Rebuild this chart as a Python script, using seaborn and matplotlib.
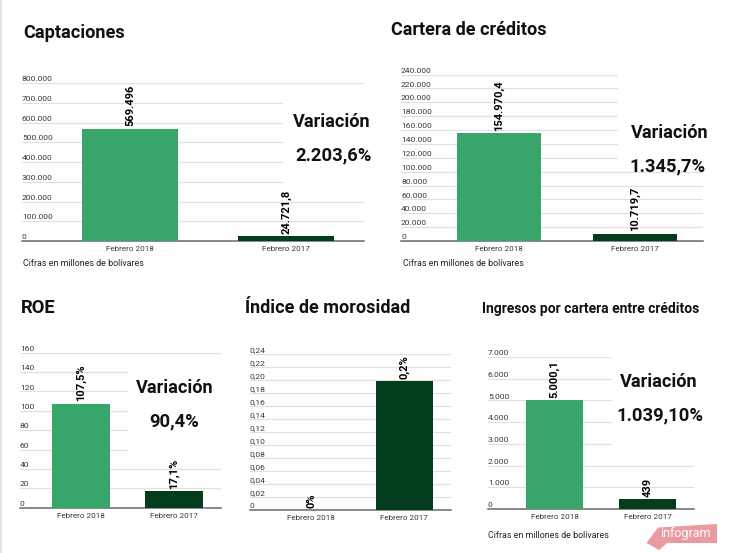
import matplotlib
matplotlib.use("Agg")
import matplotlib.pyplot as plt
from matplotlib.patches import Polygon, Rectangle
from matplotlib.transforms import ScaledTranslation
import pandas as pd
import seaborn as sns

sns.set_theme(style="white")
plt.rcParams['font.family'] = ['Roboto', 'DejaVu Sans']

W, H = 737, 553
periods = ["Febrero 2018", "Febrero 2017"]
palette = {"Febrero 2018": "#38a66b", "Febrero 2017": "#033d1e"}

capt_values = [569496, 24721.8]
capt_labels = ["569.496", "24.721,8"]
capt_ticks = [0, 100000, 200000, 300000, 400000, 500000, 600000, 700000, 800000]
capt_ticklabels = ["0", "100.000", "200.000", "300.000", "400.000", "500.000", "600.000", "700.000", "800.000"]

cart_values = [154970.4, 10719.7]
cart_labels = ["154.970,4", "10.719,7"]
cart_ticks = list(range(0, 240001, 20000))
cart_ticklabels = ["0", "20.000", "40.000", "60.000", "80.000", "100.000", "120.000", "140.000",
                   "160.000", "180.000", "200.000", "220.000", "240.000"]

roe_values = [107.5, 17.1]
roe_labels = ["107,5%", "17,1%"]
roe_ticks = [0, 20, 40, 60, 80, 100, 120, 140, 160]
roe_ticklabels = ["0", "20", "40", "60", "80", "100", "120", "140", "160"]

mor_values = [0, 0.199]
mor_labels = ["0%", "0,2%"]
mor_ticks = [0, 0.02, 0.04, 0.06, 0.08, 0.10, 0.12, 0.14, 0.16, 0.18, 0.20, 0.22, 0.24]
mor_ticklabels = ["0", "0,02", "0,04", "0,06", "0,08", "0,10", "0,12", "0,14", "0,16", "0,18", "0,20", "0,22", "0,24"]

ing_values = [5000.1, 439]
ing_labels = ["5.000,1", "439"]
ing_ticks = [0, 1000, 2000, 3000, 4000, 5000, 6000, 7000]
ing_ticklabels = ["0", "1.000", "2.000", "3.000", "4.000", "5.000", "6.000", "7.000"]

fig = plt.figure(figsize=(W / 100, H / 100), dpi=100, facecolor="white")


def fx(x):
    return x / W


def fy(y):
    return 1 - y / H


def panel(left, right, plot_left, top, base, values, labels, ticks, ticklabels):
    ax = fig.add_axes([fx(left), fy(base), (right - left) / W, (base - top) / H])
    df = pd.DataFrame({"periodo": periods, "valor": values})
    sns.barplot(data=df, x="periodo", y="valor", hue="periodo", palette=palette, dodge=False,
                legend=False, width=0.617, saturation=1, linewidth=0, ax=ax, zorder=3)
    step = (right - plot_left) / 2
    ax.set_xlim(-0.5 - (plot_left - left) / step, 1.5)
    ax.set_ylim(ticks[0], ticks[-1])
    ax.set_yticks(ticks, ticklabels)
    ax.set_xlabel("")
    ax.set_ylabel("")
    ax.grid(axis="y", color="#e0e0e0", lw=0.9, zorder=0)
    ax.set_axisbelow(True)
    ax.patch.set_alpha(0)
    for s in ("top", "left", "right"):
        ax.spines[s].set_visible(False)
    ax.spines["bottom"].set_color("#6a6a6a")
    ax.spines["bottom"].set_linewidth(1.1)
    ax.tick_params(axis="y", length=0, pad=0, labelsize=6.1, labelcolor="#3a3a3a")
    ax.tick_params(axis="x", length=0, pad=3.5, labelsize=5.9, labelcolor="#3a3a3a")
    lift = ScaledTranslation(0, 0.6 / 72, fig.dpi_scale_trans)
    for t in ax.get_yticklabels():
        t.set_ha("left")
        t.set_va("bottom")
        t.set_transform(t.get_transform() + lift)
    for i, (v, s) in enumerate(zip(values, labels)):
        ax.annotate(s, (i, v), xytext=(0, 1.5), textcoords="offset points", rotation=90,
                    ha="center", va="bottom", fontsize=8, fontweight="bold",
                    color="black", zorder=5, annotation_clip=False)
    return ax


panel(22, 364, 52, 83, 241, capt_values, capt_labels, capt_ticks, capt_ticklabels)
panel(401, 703, 431, 74.5, 241, cart_values, cart_labels, cart_ticks, cart_ticklabels)
panel(20, 221, 34, 352.7, 507.7, roe_values, roe_labels, roe_ticks, roe_ticklabels)
panel(250, 451, 264.5, 354.3, 510, mor_values, mor_labels, mor_ticks, mor_ticklabels)
panel(488, 694, 508, 357, 509, ing_values, ing_labels, ing_ticks, ing_ticklabels)


def cover(x0, y0, x1, y1):
    fig.add_artist(Rectangle((fx(x0), fy(y1)), (x1 - x0) / W, (y1 - y0) / H, transform=fig.transFigure,
                             facecolor="white", edgecolor="none", zorder=4))


cover(283, 92, 375, 190)
cover(618, 65, 737, 165)
cover(128, 362, 225, 460)
cover(612, 350, 737, 455)


def title(x, y, s, size):
    fig.text(fx(x), fy(y), s, fontsize=size, fontweight="bold", color="#111111", ha="left", va="center", zorder=6)


title(23, 33, "Captaciones", 13.1)
title(391, 30, "Cartera de créditos", 13.0)
title(21, 308, "ROE", 13.2)
title(245, 308, "Índice de morosidad", 13.0)
title(482, 309, "Ingresos por cartera entre créditos", 10.0)


def note(x, y):
    fig.text(fx(x), fy(y), "Cifras en millones de bolívares", fontsize=6.4, color="#222222",
             ha="left", va="center", zorder=6)


note(23, 264)
note(403, 264)
note(488, 535)


def variation(xv, y1, xn, y2, value):
    fig.text(fx(xv), fy(y1), "Variación", fontsize=13.1, fontweight="bold", color="#111111",
             ha="center", va="center", zorder=6)
    fig.text(fx(xn), fy(y2), value, fontsize=13.2, fontweight="bold", color="#111111",
             ha="center", va="center", zorder=6)


variation(331.5, 122, 333.5, 155, "2.203,6%")
variation(669.5, 133, 667.5, 166, "1.345,7%")
variation(174.5, 388, 174.5, 421, "90,4%")
variation(659, 382, 659.5, 415, "1.039,10%")

# left page edge and badge
fig.add_artist(Rectangle((0, 0), 2 / W, 1, transform=fig.transFigure, facecolor="#e3e3ea", edgecolor="none", zorder=1))
badge = [(646.5, 543), (658, 527.5), (717, 524), (717, 543), (667, 543), (659, 550)]
fig.add_artist(Polygon([(fx(a), fy(b)) for a, b in badge], closed=True, transform=fig.transFigure,
                       facecolor="#ec9aa1", edgecolor="none", zorder=5))
fig.text(fx(685), fy(534), "infogram", fontsize=9, color="white", ha="center", va="center", zorder=6)

fig.savefig("out.png", dpi=100)
